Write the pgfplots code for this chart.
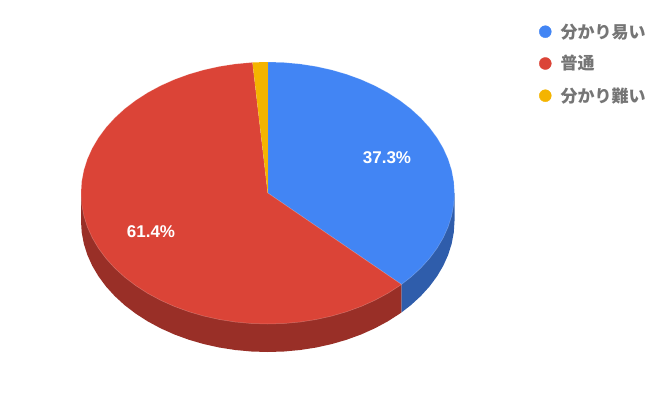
\documentclass[border=0pt]{standalone}
\usepackage{fontspec}
\setmainfont{Liberation Sans}
\newfontfamily\cjk{Noto Sans CJK JP}
\usepackage{pgfplots}
\pgfplotsset{compat=1.18}
\definecolor{pieblue}{HTML}{4285F4}
\definecolor{piered}{HTML}{DB4437}
\definecolor{pieyellow}{HTML}{F4B400}
\definecolor{sideblue}{HTML}{2F5DAB}
\definecolor{sidered}{HTML}{992F27}
\definecolor{legendtext}{HTML}{757575}
\begin{document}
\begin{tikzpicture}
\begin{axis}[
  width=667pt, height=415pt, scale only axis,
  xmin=0, xmax=667, ymin=0, ymax=415, y dir=reverse,
  hide axis, clip=false]
% keep the whole canvas, hide axis would crop to the drawn things
\path (axis cs:0,0) -- (axis cs:667,415);
% side walls, pixel positions
\addplot[fill=sideblue, draw=none] coordinates {
  (454.50,193)(454.50,221)(453.79,232.42)(451.66,243.75)(448.14,254.91)(443.24,265.81)
  (437.00,276.36)(429.48,286.50)(420.73,296.14)(410.81,305.21)(401.46,312.45)
  (401.46,284.45)(267.75,193)};
\addplot[fill=sidered, draw=none] coordinates {
  (401.46,284.45)(401.46,312.45)(399.80,313.63)(387.79,321.35)(374.86,328.31)(361.13,334.45)
  (346.67,339.73)(331.62,344.10)(316.08,347.54)(300.18,350.01)(284.03,351.50)(267.75,352)
  (251.47,351.50)(235.32,350.01)(219.42,347.54)(203.88,344.10)(188.83,339.73)(174.37,334.45)
  (160.64,328.31)(147.71,321.35)(135.70,313.63)(124.69,305.21)(114.77,296.14)(106.02,286.50)
  (98.50,276.36)(92.26,265.81)(87.36,254.91)(83.84,243.75)(81.71,232.42)(81,221)
  (81,193)(267.75,193)};
% top face: 37.3 / 61.4 / 1.3
\addplot[fill=pieblue, draw=white, draw opacity=0.25, line width=0.5pt] coordinates {
  (267.75,193)(267.75,62)(284.03,62.50)(300.18,63.99)(316.08,66.46)(331.62,69.90)(346.67,74.27)
  (361.13,79.55)(374.86,85.69)(387.79,92.65)(399.80,100.37)(410.81,108.79)(420.73,117.86)
  (429.48,127.50)(437.00,137.64)(443.24,148.19)(448.14,159.09)(451.66,170.25)(453.79,181.58)
  (454.50,193)(453.79,204.42)(451.66,215.75)(448.14,226.91)(443.24,237.81)(437.00,248.36)
  (429.48,258.50)(420.73,268.14)(410.81,277.21)(401.46,284.45)(267.75,193)};
\addplot[fill=piered, draw=white, draw opacity=0.25, line width=0.5pt] coordinates {
  (267.75,193)(401.46,284.45)(399.80,285.63)(387.79,293.35)(374.86,300.31)(361.13,306.45)
  (346.67,311.73)(331.62,316.10)(316.08,319.54)(300.18,322.01)(284.03,323.50)(267.75,324)
  (251.47,323.50)(235.32,322.01)(219.42,319.54)(203.88,316.10)(188.83,311.73)(174.37,306.45)
  (160.64,300.31)(147.71,293.35)(135.70,285.63)(124.69,277.21)(114.77,268.14)(106.02,258.50)
  (98.50,248.36)(92.26,237.81)(87.36,226.91)(83.84,215.75)(81.71,204.42)(81,193)
  (81.71,181.58)(83.84,170.25)(87.36,159.09)(92.26,148.19)(98.50,137.64)(106.02,127.50)
  (114.77,117.86)(124.69,108.79)(135.70,100.37)(147.71,92.65)(160.64,85.69)(174.37,79.55)
  (188.83,74.27)(203.88,69.90)(219.42,66.46)(235.32,63.99)(251.47,62.50)(252.51,62.44)(267.75,193)};
\addplot[fill=pieyellow, draw=none] coordinates {
  (267.75,193)(252.51,62.44)(267.75,62)(267.75,193)};
% legend dots
\addplot[only marks, mark=*, mark size=6pt, color=pieblue] coordinates {(545.3,31.7)};
\addplot[only marks, mark=*, mark size=6pt, color=piered] coordinates {(545.3,63.5)};
\addplot[only marks, mark=*, mark size=6pt, color=pieyellow] coordinates {(545.3,95.7)};
\node[anchor=west, inner sep=0pt, text=legendtext, font=\cjk\bfseries\fontsize{17}{20}\selectfont] at (axis cs:560.5,31.7) {分かり易い};
\node[anchor=west, inner sep=0pt, text=legendtext, font=\cjk\bfseries\fontsize{17}{20}\selectfont] at (axis cs:560.5,63.5) {普通};
\node[anchor=west, inner sep=0pt, text=legendtext, font=\cjk\bfseries\fontsize{17}{20}\selectfont] at (axis cs:560.5,95.7) {分かり難い};
% slice labels
\node[text=white, inner sep=0pt, font=\bfseries\fontsize{17}{20}\selectfont] at (axis cs:387,157.5) {37.3\%};
\node[text=white, inner sep=0pt, font=\bfseries\fontsize{17}{20}\selectfont] at (axis cs:151,232) {61.4\%};
\end{axis}
\end{tikzpicture}
\end{document}
